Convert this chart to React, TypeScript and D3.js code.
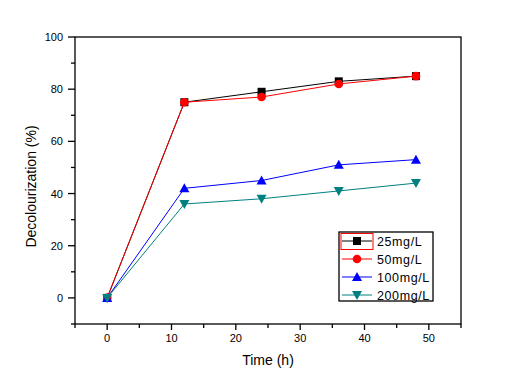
import React from "react";
import * as d3 from "d3";

const times = [0, 12, 24, 36, 48];
const s25 = [0, 75, 79, 83, 85];
const s50 = [0, 75, 77, 82, 85];
const s100 = [0, 42, 45, 51, 53];
const s200 = [0, 36, 38, 41, 44];
const seriesNames = ["25mg/L", "50mg/L", "100mg/L", "200mg/L"];
const seriesColors = ["#000000", "#ff0000", "#0000ff", "#008080"];
const seriesShapes = ["square", "circle", "up", "down"];
const xMajor = [0, 10, 20, 30, 40, 50];
const yMajor = [0, 20, 40, 60, 80, 100];

const W = 518, H = 381;
const L = 75, R = 461, T = 37, B = 324;
const FONT = "'Liberation Sans', Arial, sans-serif";

function Marker({ shape, x, y, color }: { shape: string; x: number; y: number; color: string }) {
  if (shape === "square") return <rect x={x - 4} y={y - 4} width={8} height={8} fill={color} />;
  if (shape === "circle") return <circle cx={x} cy={y} r={4.3} fill={color} />;
  if (shape === "up") return <path d={`M${x},${y - 5}L${x + 5},${y + 4}L${x - 5},${y + 4}Z`} fill={color} />;
  return <path d={`M${x},${y + 5}L${x + 5},${y - 4}L${x - 5},${y - 4}Z`} fill={color} />;
}

export default function App() {
  const x = d3.scaleLinear().domain([-5, 55]).range([L, R]);
  const y = d3.scaleLinear().domain([-10, 100]).range([B, T]);
  const all = [s25, s50, s100, s200];
  const line = d3.line<[number, number]>().x(d => x(d[0])).y(d => y(d[1]));
  const xMinor = d3.range(-5, 56, 5).filter(v => !xMajor.includes(v));
  const yMinor = d3.range(-10, 101, 10).filter(v => !yMajor.includes(v));

  const legX = 339, legY = 232, legW = 94, legH = 69;
  const rowY = [241, 259, 277, 295];

  return (
    <svg width={W} height={H} style={{ display: "block", position: "absolute", left: 0, top: 0 }} fontFamily={FONT}>
      <rect width={W} height={H} fill="#fff" />
      {all.map((s, i) => (
        <g key={i}>
          <path d={line(times.map((t, j) => [t, s[j]] as [number, number])) || ""} fill="none" stroke={seriesColors[i]} strokeWidth={1} />
          {times.map((t, j) => (
            <Marker key={j} shape={seriesShapes[i]} x={x(t)} y={y(s[j])} color={seriesColors[i]} />
          ))}
        </g>
      ))}
      <rect x={L} y={T} width={R - L} height={B - T} fill="none" stroke="#000" strokeWidth={1.3} />
      {yMajor.map(v => (
        <g key={v}>
          <line x1={L - 7} x2={L} y1={y(v)} y2={y(v)} stroke="#000" strokeWidth={1.3} />
          <text x={L - 12} y={y(v) + 4} fontSize={11} textAnchor="end" fill="#000">{v}</text>
        </g>
      ))}
      {yMinor.map(v => (
        <line key={v} x1={L - 4} x2={L} y1={y(v)} y2={y(v)} stroke="#000" strokeWidth={1.3} />
      ))}
      {xMajor.map(v => (
        <g key={v}>
          <line x1={x(v)} x2={x(v)} y1={B} y2={B + 6} stroke="#000" strokeWidth={1.3} />
          <text x={x(v)} y={342} fontSize={11} textAnchor="middle" fill="#000">{v}</text>
        </g>
      ))}
      {xMinor.map(v => (
        <line key={v} x1={x(v)} x2={x(v)} y1={B} y2={B + 4} stroke="#000" strokeWidth={1.3} />
      ))}
      <text x={(L + R) / 2} y={365} fontSize={14} textAnchor="middle" fill="#000">Time (h)</text>
      <text transform={`translate(36,${(T + B) / 2 + 6}) rotate(-90)`} fontSize={14} textAnchor="middle" fill="#000">Decolourization (%)</text>

      <rect x={legX} y={legY} width={legW} height={legH} fill="#fff" stroke="#000" strokeWidth={1.3} />
      <rect x={341} y={233.5} width={32} height={16} fill="none" stroke="#ff0000" strokeWidth={1} />
      {seriesNames.map((n, i) => (
        <g key={n}>
          <line x1={342} x2={372} y1={rowY[i]} y2={rowY[i]} stroke={seriesColors[i]} strokeWidth={1} />
          <Marker shape={seriesShapes[i]} x={357} y={rowY[i]} color={seriesColors[i]} />
          <text x={377} y={rowY[i] + 5} fontSize={12.5} letterSpacing={0.6} fill="#000">{n}</text>
        </g>
      ))}
    </svg>
  );
}
